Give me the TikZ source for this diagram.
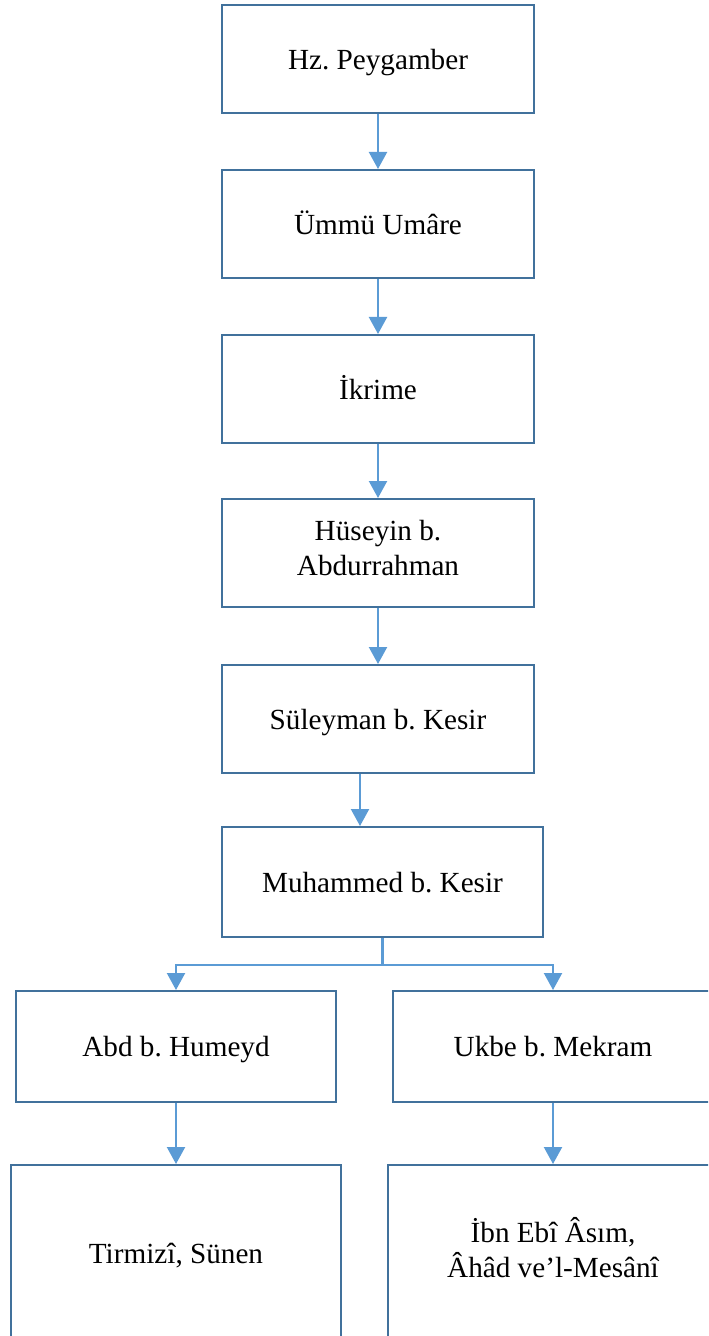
\documentclass[tikz,border=0pt]{standalone}
\usepackage{fontspec}
\setmainfont{Liberation Serif}
\usetikzlibrary{arrows.meta}
\definecolor{boxline}{HTML}{41719C}
\definecolor{arrowline}{HTML}{5B9BD5}
\frenchspacing
\begin{document}
\begin{tikzpicture}[x=0.5pt, y=-0.5pt,
        box/.style={draw=boxline, line width=1pt, minimum width=156pt, minimum height=54pt,
            align=center, font=\fontsize{14.6}{17.5}\selectfont, inner sep=0pt,
            execute at begin node=\rule{0pt}{15.5pt}, execute at end node=\strut},
        link/.style={draw=arrowline, line width=1.1pt, -{Triangle[width=9pt, length=8.5pt]}}]
        \useasboundingbox (0, 0) rectangle (708, 1336);
        \clip (0, 0) rectangle (708, 1336);
        \node (peygamber) at (378, 59) [box] {Hz. Peygamber};
        \node (ummu) at (378, 224) [box] {Ümmü Umâre};
        \node (ikrime) at (378, 389) [box] {İkrime};
        \node (huseyin) at (378, 553) [box] {Hüseyin b.\\ Abdurrahman};
        \node (suleyman) at (378, 719) [box] {Süleyman b. Kesir};
        \node (muhammed) at (382.5, 882) [box, minimum width=160.5pt, minimum height=55pt] {Muhammed b. Kesir};
        \node (abd) at (176, 1046.5) [box, minimum width=160pt, minimum height=55.5pt] {Abd b. Humeyd};
        \node (ukbe) at (553, 1046.5) [box, minimum width=160pt, minimum height=55.5pt] {Ukbe b. Mekram};
        \node (tirmizi) at (176, 1253) [box, minimum width=165pt, minimum height=88pt] {Tirmizî, Sünen};
        \node (ibn) at (553, 1253) [box, minimum width=165pt, minimum height=88pt] {İbn Ebî Âsım,\\ Âhâd ve’l-Mesânî};
        \coordinate (split) at (382.5, 965);
        \draw[link] (peygamber) -- (ummu);
        \draw[link] (ummu) -- (ikrime);
        \draw[link] (ikrime) -- (huseyin);
        \draw[link] (huseyin) -- (suleyman);
        \draw[link] ([xshift=-9pt]suleyman.south) -- ([xshift=-9pt]suleyman.south |- muhammed.north);
        \draw[draw=arrowline, line width=1.1pt] (muhammed) -- (split);
        \draw[link] (split) -| (abd);
        \draw[link] (split) -| (ukbe);
        \draw[link] (abd) -- (tirmizi);
        \draw[link] (ukbe) -- (ibn);
    \end{tikzpicture}
\end{document}
